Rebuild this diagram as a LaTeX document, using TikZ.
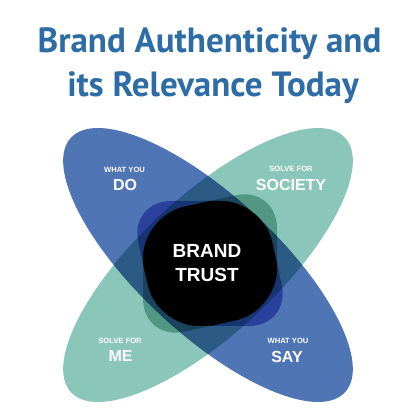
\documentclass[tikz,border=0pt]{standalone}
\usepackage{fontspec}
\setmainfont{Liberation Sans}
\newfontfamily\titlefont{PT Sans}
\definecolor{titleblue}{RGB}{46,108,166}
\definecolor{eblue}{RGB}{80,117,181}
\definecolor{egreen}{RGB}{139,198,186}
\definecolor{cblue}{RGB}{135,145,222}
\definecolor{cgreen}{RGB}{150,195,182}
\tikzset{
  titletext/.style={font=\titlefont\bfseries\fontsize{35}{35}\selectfont, text=titleblue, anchor=base, inner sep=0pt},
  smalllabel/.style={font=\bfseries\fontsize{7.6}{8}\selectfont, text=white, anchor=base, inner sep=0pt},
  biglabel/.style={font=\bfseries\fontsize{16}{16}\selectfont, text=white, anchor=base, inner sep=0pt},
  centerlabel/.style={font=\bfseries\fontsize{19}{19}\selectfont, text=white, anchor=base, inner sep=0pt},
  bluecoreframe/.style={shift={(210,156.5)}, xslant=-0.22, rounded corners=42pt},
  greencoreframe/.style={shift={(210,156.5)}, yslant=0.22, rounded corners=42pt},
}
\newcommand\coreshape{(-67,-62.5) rectangle (67,62.5)}
\begin{document}
\begin{tikzpicture}[x=1pt,y=1pt]
\useasboundingbox (0,0) rectangle (420,420);
\fill[white] (0,0) rectangle (420,420);
% title
\node[titletext] (t1) at (209.5,367) {Brand Authenticity and};
\node[titletext] (t2) at (213,323.3) {its Relevance Today};
% petals
\coordinate (c) at (208,155);
\fill[eblue, rotate around={-42.9:(c)}] (c) ellipse [x radius=187pt, y radius=69pt];
\fill[egreen, blend mode=multiply, rotate around={42.9:(c)}] (c) ellipse [x radius=187pt, y radius=69pt];
% cores
\fill[cblue, blend mode=multiply, bluecoreframe] \coreshape;
\fill[cgreen, blend mode=multiply, greencoreframe] \coreshape;
\begin{scope}
  \clip[bluecoreframe] \coreshape;
  \fill[black, greencoreframe] \coreshape;
\end{scope}
% labels
\node[smalllabel] (w1) at (124.5,247) {WHAT YOU};
\node[biglabel] (do) at (125,229) {DO};
\node[smalllabel] (s1) at (291,248) {SOLVE FOR};
\node[biglabel] (soc) at (291,229) {SOCIETY};
\node[smalllabel] (s2) at (120,76) {SOLVE FOR};
\node[biglabel] (me) at (120.5,58) {ME};
\node[smalllabel] (w2) at (288,76) {WHAT YOU};
\node[biglabel] (say) at (287,57) {SAY};
\node[centerlabel] (brand) at (207,162) {BRAND};
\node[centerlabel] (trust) at (207,138.3) {TRUST};
\end{tikzpicture}
\end{document}
